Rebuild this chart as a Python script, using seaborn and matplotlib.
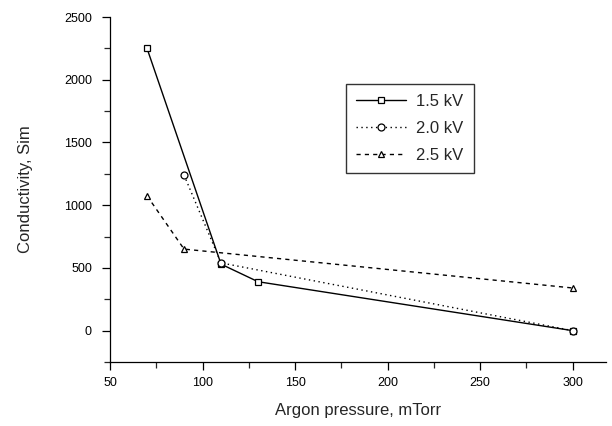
import pandas as pd
import matplotlib
matplotlib.use("Agg")
import matplotlib.pyplot as plt
import seaborn as sns
from matplotlib.ticker import MultipleLocator

# --- data ---
p_15 = [70, 110, 130, 300]
c_15 = [2250, 530, 390, 0]

p_20 = [90, 110, 300]
c_20 = [1240, 540, 0]

p_25 = [70, 90, 300]
c_25 = [1075, 650, 340]

series = [
    ("1.5 kV", p_15, c_15, "-", "s"),
    ("2.0 kV", p_20, c_20, (0, (1, 2.5)), "o"),
    ("2.5 kV", p_25, c_25, (0, (3, 3)), "^"),
]

sns.set_theme(style="ticks")
plt.rcParams['font.family'] = ['Liberation Sans', 'DejaVu Sans']

fig = plt.figure(figsize=(6.12, 4.26), dpi=100)
ax = fig.add_axes([110 / 612, 1 - 362 / 426, 496 / 612, 345 / 426])

for name, xs, ys, ls, mk in series:
    df = pd.DataFrame({"pressure": xs, "conductivity": ys})
    sns.lineplot(data=df, x="pressure", y="conductivity", ax=ax, color="black",
                 linestyle=ls, linewidth=1.0, marker=mk, markersize=5,
                 markerfacecolor="white", markeredgecolor="black",
                 markeredgewidth=0.9, label=name)

ax.set_xlim(50, 318)
ax.set_ylim(-250, 2500)
ax.xaxis.set_major_locator(MultipleLocator(50))
ax.xaxis.set_minor_locator(MultipleLocator(25))
ax.yaxis.set_major_locator(MultipleLocator(500))
ax.yaxis.set_minor_locator(MultipleLocator(250))
ax.set_yticks([0, 500, 1000, 1500, 2000, 2500])
ax.tick_params(which="major", direction="out", length=6, width=0.9,
               labelsize=9, colors="black")
ax.tick_params(axis="y", which="major", pad=7)
ax.tick_params(axis="x", which="major", pad=5)
ax.tick_params(which="minor", direction="out", length=4, width=0.9)
for side in ("top", "right"):
    ax.spines[side].set_visible(False)
for side in ("left", "bottom"):
    ax.spines[side].set_linewidth(0.9)
    ax.spines[side].set_color("black")

ax.set_xlabel("Argon pressure, mTorr", fontsize=12, labelpad=10)
ax.set_ylabel("Conductivity, Sim", fontsize=12, labelpad=22)

leg = ax.legend(loc="upper left", bbox_to_anchor=(338 / 612, 1 - 76 / 426),
                bbox_transform=fig.transFigure, frameon=True, fancybox=False,
                edgecolor="black", fontsize=12, handlelength=3.0,
                handletextpad=0.6, borderpad=0.6, labelspacing=0.7)
leg.get_frame().set_linewidth(1.0)

fig.savefig("out.png", dpi=100, facecolor="white")
